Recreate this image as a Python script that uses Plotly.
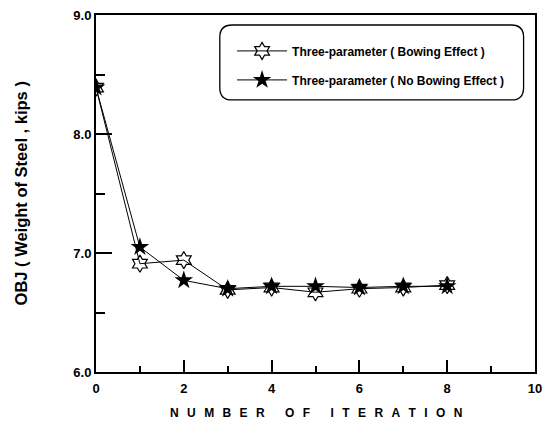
import plotly.graph_objects as go

# Iteration history of the objective (weight of steel, kips)
iterations = [0, 1, 2, 3, 4, 5, 6, 7, 8]
obj_bowing = [8.39, 6.91, 6.94, 6.69, 6.71, 6.67, 6.70, 6.71, 6.73]
obj_no_bowing = [8.39, 7.05, 6.77, 6.70, 6.72, 6.72, 6.71, 6.72, 6.72]

name_bowing = "Three-parameter ( Bowing Effect )"
name_no_bowing = "Three-parameter ( No Bowing Effect )"
x_title_words = ["NUMBER", "OF", "ITERATION"]
y_title = "OBJ ( Weight of Steel , kips )"

FONT = "Liberation Sans, Arial, sans-serif"

# letter-spaced x title
LETTER_GAP = "\u2002\u2009"
WORD_GAP = "\u2003\u2002\u2009"
x_title = WORD_GAP.join(LETTER_GAP.join(w) for w in x_title_words)

fig = go.Figure()
fig.add_trace(go.Scatter(
    x=iterations, y=obj_bowing, name=name_bowing, mode="lines+markers",
    legendgroup="a",
    line=dict(color="black", width=1),
    marker=dict(symbol="hexagram-open", size=13, color="black",
                line=dict(width=1.2, color="black")),
))
fig.add_trace(go.Scatter(
    x=iterations, y=obj_no_bowing, name=name_no_bowing, mode="lines+markers",
    legendgroup="b",
    line=dict(color="black", width=1),
    marker=dict(symbol="star", size=14, color="black",
                line=dict(width=0, color="black")),
))

# Rounded legend frame
x0, x1, y0, y1, r = 0.282, 0.974, 0.762, 0.972, 0.028
ry = r * 439 / 357
frame = (f"M {x0 + r},{y1} L {x1 - r},{y1} Q {x1},{y1} {x1},{y1 - ry} "
         f"L {x1},{y0 + ry} Q {x1},{y0} {x1 - r},{y0} "
         f"L {x0 + r},{y0} Q {x0},{y0} {x0},{y0 + ry} "
         f"L {x0},{y1 - ry} Q {x0},{y1} {x0 + r},{y1} Z")

fig.update_layout(
    width=547, height=423,
    margin=dict(l=96, r=12, t=15, b=51),
    paper_bgcolor="white", plot_bgcolor="white",
    font=dict(family=FONT, color="black"),
    showlegend=True,
    legend=dict(
        x=0.31, y=0.94, xanchor="left", yanchor="top",
        bgcolor="rgba(0,0,0,0)", borderwidth=0,
        font=dict(family=FONT, size=12, color="black", weight="bold"),
        tracegroupgap=10, itemwidth=50,
    ),
    shapes=[dict(type="path", xref="paper", yref="paper", path=frame,
                 line=dict(color="black", width=1.3), fillcolor="rgba(0,0,0,0)")],
    annotations=[
        dict(text=x_title, xref="paper", yref="paper", x=0.5, y=-0.115,
             xanchor="center", yanchor="middle", showarrow=False,
             font=dict(family=FONT, size=12, weight="bold")),
        dict(text=y_title, xref="paper", yref="paper", x=-0.171, y=0.5,
             xanchor="center", yanchor="middle", showarrow=False, textangle=-90,
             font=dict(family=FONT, size=16.5, weight="bold")),
    ],
    xaxis=dict(
        range=[0, 10], dtick=2, tick0=0, automargin=False,
        showgrid=False, zeroline=False,
        showline=True, linecolor="black", linewidth=2, mirror=True,
        ticks="inside", ticklen=12, tickwidth=2, tickcolor="black",
        minor=dict(dtick=1, ticks="inside", ticklen=6, tickwidth=1.5, tickcolor="black"),
        tickfont=dict(family=FONT, size=13, weight="bold"),
        ticklabelstandoff=3,
    ),
    yaxis=dict(
        range=[6, 9], dtick=1, tick0=6, tickformat=".1f", automargin=False,
        showgrid=False, zeroline=False,
        showline=True, linecolor="black", linewidth=2, mirror=True,
        ticks="inside", ticklen=16, tickwidth=2, tickcolor="black",
        minor=dict(dtick=0.5, ticks="inside", ticklen=9, tickwidth=1.5, tickcolor="black"),
        tickfont=dict(family=FONT, size=13, weight="bold"),
    ),
)

fig.write_html("out.html")
